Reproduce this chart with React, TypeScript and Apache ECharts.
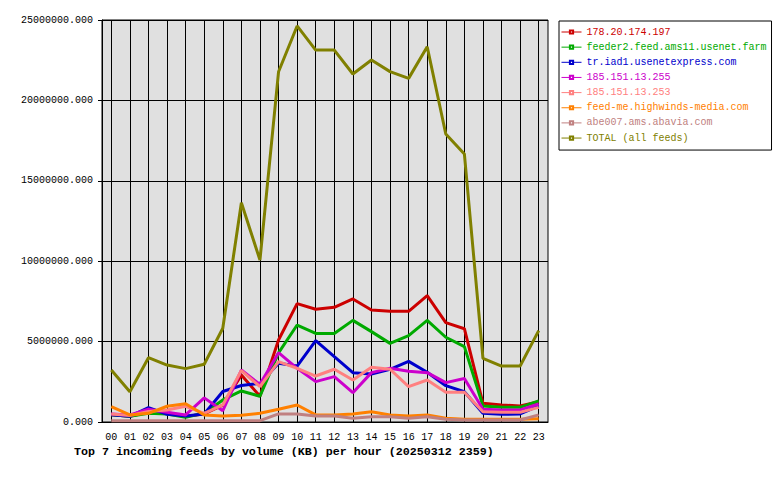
import React, { useEffect, useRef } from "react";
import * as echarts from "echarts";

// Hours of the day (x axis)
const hours = [
  "00", "01", "02", "03", "04", "05", "06", "07", "08", "09", "10", "11",
  "12", "13", "14", "15", "16", "17", "18", "19", "20", "21", "22", "23",
];

// Incoming volume per feed, KB per hour (in millions)
const feed178 = [0.45, 0.35, 0.6, 0.55, 0.35, 0.5, 1.05, 2.92, 1.6, 5.1, 7.36, 7.01, 7.13, 7.65, 6.97, 6.88, 6.88, 7.86, 6.18, 5.8, 1.16, 1.06, 1.0, 1.26];
const feeder2 = [0.45, 0.35, 0.55, 0.5, 0.3, 0.55, 1.37, 1.93, 1.6, 4.3, 6.03, 5.51, 5.51, 6.32, 5.62, 4.89, 5.37, 6.32, 5.27, 4.69, 1.0, 0.91, 0.91, 1.31];
const trIad1 = [0.45, 0.35, 0.89, 0.48, 0.37, 0.5, 1.9, 2.27, 2.4, 3.65, 3.48, 5.06, 4.06, 3.07, 2.98, 3.28, 3.77, 3.09, 2.26, 1.88, 0.54, 0.48, 0.5, 1.0];
const feed255 = [0.5, 0.44, 0.79, 0.6, 0.44, 1.5, 0.7, 3.23, 2.34, 4.31, 3.34, 2.51, 2.82, 1.82, 3.07, 3.34, 3.15, 3.07, 2.45, 2.7, 0.79, 0.75, 0.75, 1.12];
const feed253 = [0.5, 0.4, 0.65, 0.75, 0.98, 0.54, 1.06, 3.2, 2.2, 3.75, 3.34, 2.86, 3.28, 2.61, 3.4, 3.28, 2.2, 2.61, 1.85, 1.85, 0.64, 0.6, 0.6, 0.91];
const feedMe = [0.95, 0.44, 0.54, 0.98, 1.14, 0.44, 0.37, 0.42, 0.54, 0.79, 1.06, 0.44, 0.44, 0.5, 0.64, 0.44, 0.37, 0.44, 0.23, 0.17, 0.17, 0.17, 0.17, 0.2];
const abe007 = [0.08, 0.08, 0.08, 0.08, 0.08, 0.08, 0.08, 0.08, 0.08, 0.5, 0.5, 0.37, 0.37, 0.23, 0.33, 0.33, 0.23, 0.33, 0.17, 0.12, 0.12, 0.12, 0.12, 0.44];
const total = [3.23, 1.88, 4.0, 3.54, 3.32, 3.59, 5.83, 13.64, 10.07, 21.78, 24.63, 23.13, 23.13, 21.64, 22.51, 21.79, 21.37, 23.34, 17.91, 16.67, 3.96, 3.48, 3.48, 5.68];

const feedNames = [
  "178.20.174.197",
  "feeder2.feed.ams11.usenet.farm",
  "tr.iad1.usenetexpress.com",
  "185.151.13.255",
  "185.151.13.253",
  "feed-me.highwinds-media.com",
  "abe007.ams.abavia.com",
  "TOTAL (all feeds)",
];
const feedColors = ["#cc0000", "#00aa00", "#0000cc", "#cc00cc", "#ff8080", "#ff8000", "#c08080", "#808000"];
const feedValues = [feed178, feeder2, trIad1, feed255, feed253, feedMe, abe007, total];

const yTicks = [0, 5000000, 10000000, 15000000, 20000000, 25000000];

const MONO = "'Liberation Mono', 'DejaVu Sans Mono', monospace";

export default function App() {
  const ref = useRef<HTMLDivElement>(null);

  useEffect(() => {
    if (!ref.current) return;
    const chart = echarts.init(ref.current, undefined, { renderer: "svg" });

    const series = feedNames.map((name, i) => ({
      name,
      type: "line",
      data: feedValues[i].map((v) => Math.round(v * 1000000)),
      symbol: "emptyRect",
      showSymbol: false,
      lineStyle: { color: feedColors[i], width: 3 },
      itemStyle: { color: feedColors[i] },
      z: 2 + i,
    }));

    chart.setOption({
      animation: false,
      backgroundColor: "#ffffff",
      textStyle: { fontFamily: MONO },
      title: {
        text: "Top 7 incoming feeds by volume (KB) per hour (20250312 2359)",
        left: 69,
        top: 441,
        textStyle: { fontFamily: MONO, fontSize: 11.67, fontWeight: "bold", color: "#000" },
      },
      legend: {
        orient: "vertical",
        left: 559,
        top: 21,
        padding: [6, 5, 7, 2],
        itemWidth: 20,
        itemHeight: 4,
        itemGap: 5.15,
        borderColor: "#000",
        borderWidth: 1,
        backgroundColor: "#fff",
        lineStyle: { width: 1 },
        textStyle: { fontFamily: MONO, fontSize: 10 },
        data: feedNames.map((name, i) => ({
          name,
          textStyle: { color: feedColors[i] },
        })),
      },
      grid: {
        left: 102,
        top: 20,
        right: 232,
        bottom: 58,
        show: true,
        backgroundColor: "#e0e0e0",
        borderColor: "#000",
        borderWidth: 1,
      },
      xAxis: {
        type: "category",
        data: hours,
        boundaryGap: true,
        axisLine: { lineStyle: { color: "#000", width: 1 } },
        axisTick: { alignWithLabel: true, length: 4, lineStyle: { color: "#000" } },
        axisLabel: { color: "#000", fontFamily: MONO, fontSize: 10, margin: 10, interval: 0 },
        splitLine: { show: true, alignWithLabel: true, lineStyle: { color: "#000", width: 1 } },
      },
      yAxis: {
        type: "value",
        min: yTicks[0],
        max: yTicks[yTicks.length - 1],
        interval: yTicks[1] - yTicks[0],
        axisLine: { show: true, lineStyle: { color: "#000", width: 1 } },
        axisTick: { show: true, length: 4, lineStyle: { color: "#000" } },
        axisLabel: {
          color: "#000",
          fontFamily: MONO,
          fontSize: 10,
          margin: 9,
          formatter: (v: number) => v.toFixed(3),
        },
        splitLine: { show: true, lineStyle: { color: "#000", width: 1 } },
      },
      series,
    });

    return () => chart.dispose();
  }, []);

  return (
    <div
      ref={ref}
      style={{ position: "absolute", left: 0, top: 0, width: 780, height: 480 }}
    />
  );
}
